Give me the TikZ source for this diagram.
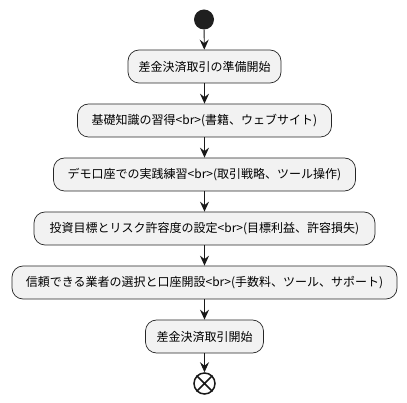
\documentclass[tikz,border=0pt]{standalone}
\usepackage{fontspec}
\setmainfont{Noto Sans CJK JP}
\usetikzlibrary{arrows.meta}
\begin{document}
\begin{tikzpicture}[x=1pt,y=-1pt,
  act/.style={draw=black!85, line width=0.7pt, fill=black!5, rounded corners=11pt,
    minimum height=33pt, inner xsep=10pt, font=\fontsize{12pt}{14pt}\selectfont, anchor=center},
  flow/.style={draw=black!90, line width=0.9pt, -{Stealth[length=10pt,width=9pt,inset=3.5pt]}}]
\useasboundingbox (0,0) rectangle (407,403);
\node[circle, fill=black!88, minimum size=20pt, inner sep=0pt] (start) at (204,19.5) {};
\node[act, minimum width=153pt] (a1) at (204.5,66.5) {差金決済取引の準備開始};
\node[act, minimum width=254pt] (a2) at (204.5,120.5) {基礎知識の習得<br>(書籍、ウェブサイト)};
\node[act, minimum width=302pt] (a3) at (204.5,174.5) {デモ口座での実践練習<br>(取引戦略、ツール操作)};
\node[act, minimum width=341pt] (a4) at (204.5,228.5) {投資目標とリスク許容度の設定<br>(目標利益、許容損失)};
\node[act, minimum width=385pt] (a5) at (204.5,282.5) {信頼できる業者の選択と口座開設<br>(手数料、ツール、サポート)};
\node[act, minimum width=118pt] (a6) at (204.5,336.5) {差金決済取引開始};
\node[circle, draw=black!90, line width=1.5pt, fill=white, minimum size=21pt, inner sep=0pt] (stop) at (204.5,383.5) {};
\draw[black!90, line width=1.5pt] (stop.north west) -- (stop.south east) (stop.north east) -- (stop.south west);
\draw[flow] (start) -- (a1);
\draw[flow] (a1) -- (a2);
\draw[flow] (a2) -- (a3);
\draw[flow] (a3) -- (a4);
\draw[flow] (a4) -- (a5);
\draw[flow] (a5) -- (a6);
\draw[flow] (a6) -- (stop);
\end{tikzpicture}
\end{document}
